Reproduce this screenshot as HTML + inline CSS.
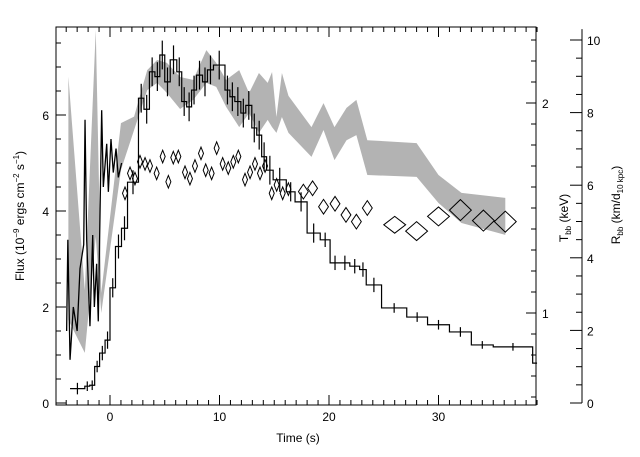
<!DOCTYPE html>
<html><head><meta charset="utf-8">
<style>
html,body{margin:0;padding:0;background:#fff;}
svg{display:block;font-family:"Liberation Sans","DejaVu Sans",sans-serif;}
text{font-size:12px;fill:#000;}
</style></head>
<body>
<svg id="chart" width="640" height="457" viewBox="0 0 640 457" xmlns="http://www.w3.org/2000/svg">
<rect x="0" y="0" width="640" height="457" fill="#fff"/>
<g id="band"></g>
<g id="flux"></g>
<g id="noisy"></g>
<g id="diam"></g>
<g id="axes"></g>
<text x="298" y="442" text-anchor="middle">Time (s)</text>
<text transform="translate(24,216) rotate(-90)" text-anchor="middle">Flux (10<tspan font-size="8" dy="-5">−9</tspan><tspan dy="5"> ergs cm</tspan><tspan font-size="8" dy="-5">−2</tspan><tspan dy="5"> s</tspan><tspan font-size="8" dy="-5">−1</tspan><tspan dy="5">)</tspan></text>
<text transform="translate(568,218) rotate(-90)" text-anchor="middle">T<tspan font-size="8" dy="3">bb</tspan><tspan dy="-3"> (keV)</tspan></text>
<text transform="translate(620,205) rotate(-90)" text-anchor="middle">R<tspan font-size="8" dy="3">bb</tspan><tspan dy="-3"> (km/d</tspan><tspan font-size="8" dy="3">10 kpc</tspan><tspan dy="-3">)</tspan></text>
</svg>
<script>
const fluxEdges=[-3.65,-2.3,-1.85,-1.4,-0.95,-0.45,0,0.5,1.05,1.6,2.6,3.1,3.6,4.1,4.55,5.0,5.5,6.1,6.55,7.0,7.45,7.9,8.45,8.9,9.45,10.5,10.95,11.4,11.95,12.4,12.95,13.4,13.85,14.3,14.9,16.1,16.9,18.0,19.2,20.1,21.0,21.9,22.8,23.4,24.8,27.1,29.0,31.0,33.0,35.0,38.6,39];
const fluxValues=[0.3,0.35,0.37,0.76,1.04,1.31,2.4,3.26,3.64,4.6,6.35,6.12,6.9,6.8,7.25,6.69,7.15,6.9,6.28,6.17,6.52,6.83,6.69,6.94,7.04,6.52,6.38,6.28,6.04,6.2,5.73,5.58,5.13,4.85,4.65,4.4,4.19,3.54,3.40,2.92,2.92,2.85,2.78,2.46,1.98,1.79,1.63,1.48,1.21,1.17,0.83];
const fluxErr=[0.12,0.1,0.1,0.12,0.15,0.18,0.2,0.25,0.25,0.25,0.3,0.3,0.3,0.3,0.3,0.3,0.3,0.3,0.3,0.3,0.3,0.3,0.3,0.3,0.3,0.3,0.3,0.3,0.3,0.3,0.3,0.3,0.3,0.3,0.25,0.2,0.2,0.2,0.15,0.15,0.15,0.15,0.15,0.15,0.1,0.1,0.1,0.1,0.08,0.08,0];
const hiresT=[-3.96,-3.85,-3.65,-3.35,-3.0,-2.74,-2.4,-2.28,-2.13,-1.83,-1.58,-1.43,-1.22,-1.07,-0.76,-0.61,-0.3,-0.15,0.09,0.3,0.55,0.76,1.06];
const hiresF=[1.5,3.4,0.9,2.0,1.5,2.8,3.3,5.9,3.4,1.6,3.5,2.0,2.9,1.7,6.1,4.5,5.4,4.4,5.5,4.8,5.3,4.7,5.0];
const diamT=[1.37,1.83,2.28,2.74,3.2,3.65,4.26,4.81,5.33,5.78,6.24,6.85,7.3,7.76,8.31,8.74,9.28,9.74,10.29,10.8,11.26,11.72,12.33,12.79,13.24,13.7,14.16,14.77,15.22,15.77,16.29,17.66,18.5,19.5,20.55,21.55,22.5,23.5,26.0,28.0,30.0,32.0,34.1,36.1];
const diamK=[1.57,1.665,1.64,1.72,1.71,1.70,1.665,1.745,1.625,1.74,1.745,1.67,1.64,1.70,1.76,1.68,1.665,1.785,1.71,1.69,1.72,1.745,1.635,1.67,1.71,1.665,1.70,1.57,1.61,1.57,1.59,1.578,1.594,1.506,1.52,1.467,1.435,1.50,1.42,1.39,1.46,1.49,1.44,1.435];
const diamTerr=[0.23,0.23,0.23,0.23,0.23,0.23,0.23,0.23,0.23,0.23,0.23,0.23,0.23,0.23,0.23,0.23,0.23,0.23,0.23,0.23,0.23,0.23,0.23,0.23,0.23,0.23,0.23,0.23,0.23,0.23,0.23,0.45,0.45,0.45,0.45,0.45,0.45,0.45,1.0,1.0,1.0,1.0,1.0,1.0];
const diamKerr=[0.03,0.03,0.03,0.03,0.03,0.03,0.03,0.03,0.03,0.03,0.03,0.03,0.03,0.03,0.03,0.03,0.03,0.03,0.03,0.03,0.03,0.03,0.03,0.03,0.03,0.03,0.03,0.03,0.03,0.03,0.03,0.035,0.035,0.035,0.035,0.035,0.035,0.035,0.04,0.045,0.045,0.05,0.05,0.05];
const bandT=[-3.8,-2.3,-1.3,-0.8,1.0,2.2,3.4,4.3,5.2,6.4,7.6,8.8,9.7,10.6,11.8,12.7,13.6,14.4,14.8,15.2,15.7,16.3,18.4,19.5,20.5,21.6,22.5,23.5,28.0,30.0,32.1,36.1];
const bandHi=[8.99,3.11,10.28,3.03,7.71,7.89,9.17,9.45,9.37,8.98,8.90,9.72,9.37,8.90,9.17,8.54,9.09,8.82,9.12,7.88,9.09,8.46,7.60,8.26,7.60,8.13,8.35,7.24,7.16,6.28,5.79,5.65];
const bandLo=[2.29,1.38,4.58,2.48,6.42,7.52,8.62,8.82,8.54,8.10,8.35,8.82,8.71,8.16,7.60,7.99,7.44,7.80,7.60,7.44,7.88,7.44,6.78,7.52,6.69,7.24,7.38,6.28,6.23,5.51,4.96,4.63];
const xTicks=[0,10,20,30];
const fluxTicks=[0,2,4,6];
const tempTicks=[1,2];
const radTicks=[0,2,4,6,8,10];

const L=56,R=536,T=27,B=405;
const X=t=>110+(t)*10.95;
const YF=f=>403-f*48;
const YT=k=>313-(k-1)*210;
const YR=r=>403-r*36.3;
const NS='http://www.w3.org/2000/svg';
function mk(tag,attrs,parent){const e=document.createElementNS(NS,tag);for(const k in attrs)e.setAttribute(k,attrs[k]);parent.appendChild(e);return e;}

// band
const bg=document.getElementById('band');
let pts=bandT.map((t,i)=>X(t)+','+YR(bandHi[i]));
for(let i=bandT.length-1;i>=0;i--)pts.push(X(bandT[i])+','+YR(bandLo[i]));
const poly=mk('polygon',{points:pts.join(' '),fill:'#b3b3b3',stroke:'none'},bg);



// flux histogram
const fg=document.getElementById('flux');
let d='';
for(let i=0;i<fluxValues.length;i++){
  const x0=X(fluxEdges[i]),x1=X(fluxEdges[i+1]),y=YF(fluxValues[i]);
  d+=(i==0?'M':'L')+x0+','+y+'L'+x1+','+y;
}
const hp=mk('path',{d:d,fill:'none',stroke:'#000','stroke-width':1.2},fg);


for(let i=0;i<fluxValues.length;i++){
  if(!fluxErr[i])continue;
  const xc=X((fluxEdges[i]+fluxEdges[i+1])/2);
  const eb=mk('line',{x1:xc,x2:xc,y1:YF(fluxValues[i]-fluxErr[i]),y2:YF(fluxValues[i]+fluxErr[i]),stroke:'#000','stroke-width':1.2},fg);
  
  
}
// hi-res
const ng=document.getElementById('noisy');
const np=mk('polyline',{points:hiresT.map((t,i)=>X(t)+','+YF(hiresF[i])).join(' '),fill:'none',stroke:'#000','stroke-width':1.3},ng);


// diamonds
const dg=document.getElementById('diam');
diamT.forEach((t,i)=>{
  const cx=X(t),cy=YT(diamK[i]),hw=diamTerr[i]*10.95,hh=diamKerr[i]*210;
  const p=mk('polygon',{points:`${cx-hw},${cy} ${cx},${cy-hh} ${cx+hw},${cy} ${cx},${cy+hh}`,fill:'none',stroke:'#000','stroke-width':1},dg);
  
  
});
// axes
const ag=document.getElementById('axes');
const fr=mk('rect',{x:L,y:T,width:R-L,height:B-T,fill:'none',stroke:'#000','stroke-width':1},ag);


function ln(x1,y1,x2,y2,name){const e=mk('line',{x1,y1,x2,y2,stroke:'#000','stroke-width':1},ag);}
function tx(x,y,s,anchor,name){const e=mk('text',{x,y,'text-anchor':anchor},ag);e.textContent=s;}
for(let t=-4;t<=39;t++){
  const x=X(t),len=(t%10==0)?10:5;
  ln(x,B,x,B-len,'x-tick');ln(x,T,x,T+len,'x-tick-top');
}
xTicks.forEach(t=>tx(X(t),421,String(t),'middle','x-tick-label'));
for(let f=0;f<=7.5;f+=0.5){
  const y=YF(f),len=(f%2==0)?10:5;ln(L,y,L+len,y,'flux-tick');
}
fluxTicks.forEach(f=>tx(49,YF(f)+5,String(f),'end','flux-tick-label'));
for(let k=0.6;k<=2.36;k+=0.1){
  const kk=Math.round(k*10)/10,y=YT(kk),len=(Math.abs(kk-Math.round(kk))<0.01)?10:5;ln(R,y,R-len,y,'temp-tick');
}
tempTicks.forEach(k=>tx(542,YT(k)+5,String(k),'start','temp-tick-label'));
const RX=582;
ln(RX,YR(0),RX,YR(10.3),'radius-axis-line');
for(let r=0;r<=10;r+=0.5){
  const y=YR(r),len=(r%2==0)?12:6;ln(RX,y,RX-len,y,'radius-tick');
}
radTicks.forEach(r=>tx(587,YR(r)+5,String(r),'start','radius-tick-label'));
</script>
</body></html>
